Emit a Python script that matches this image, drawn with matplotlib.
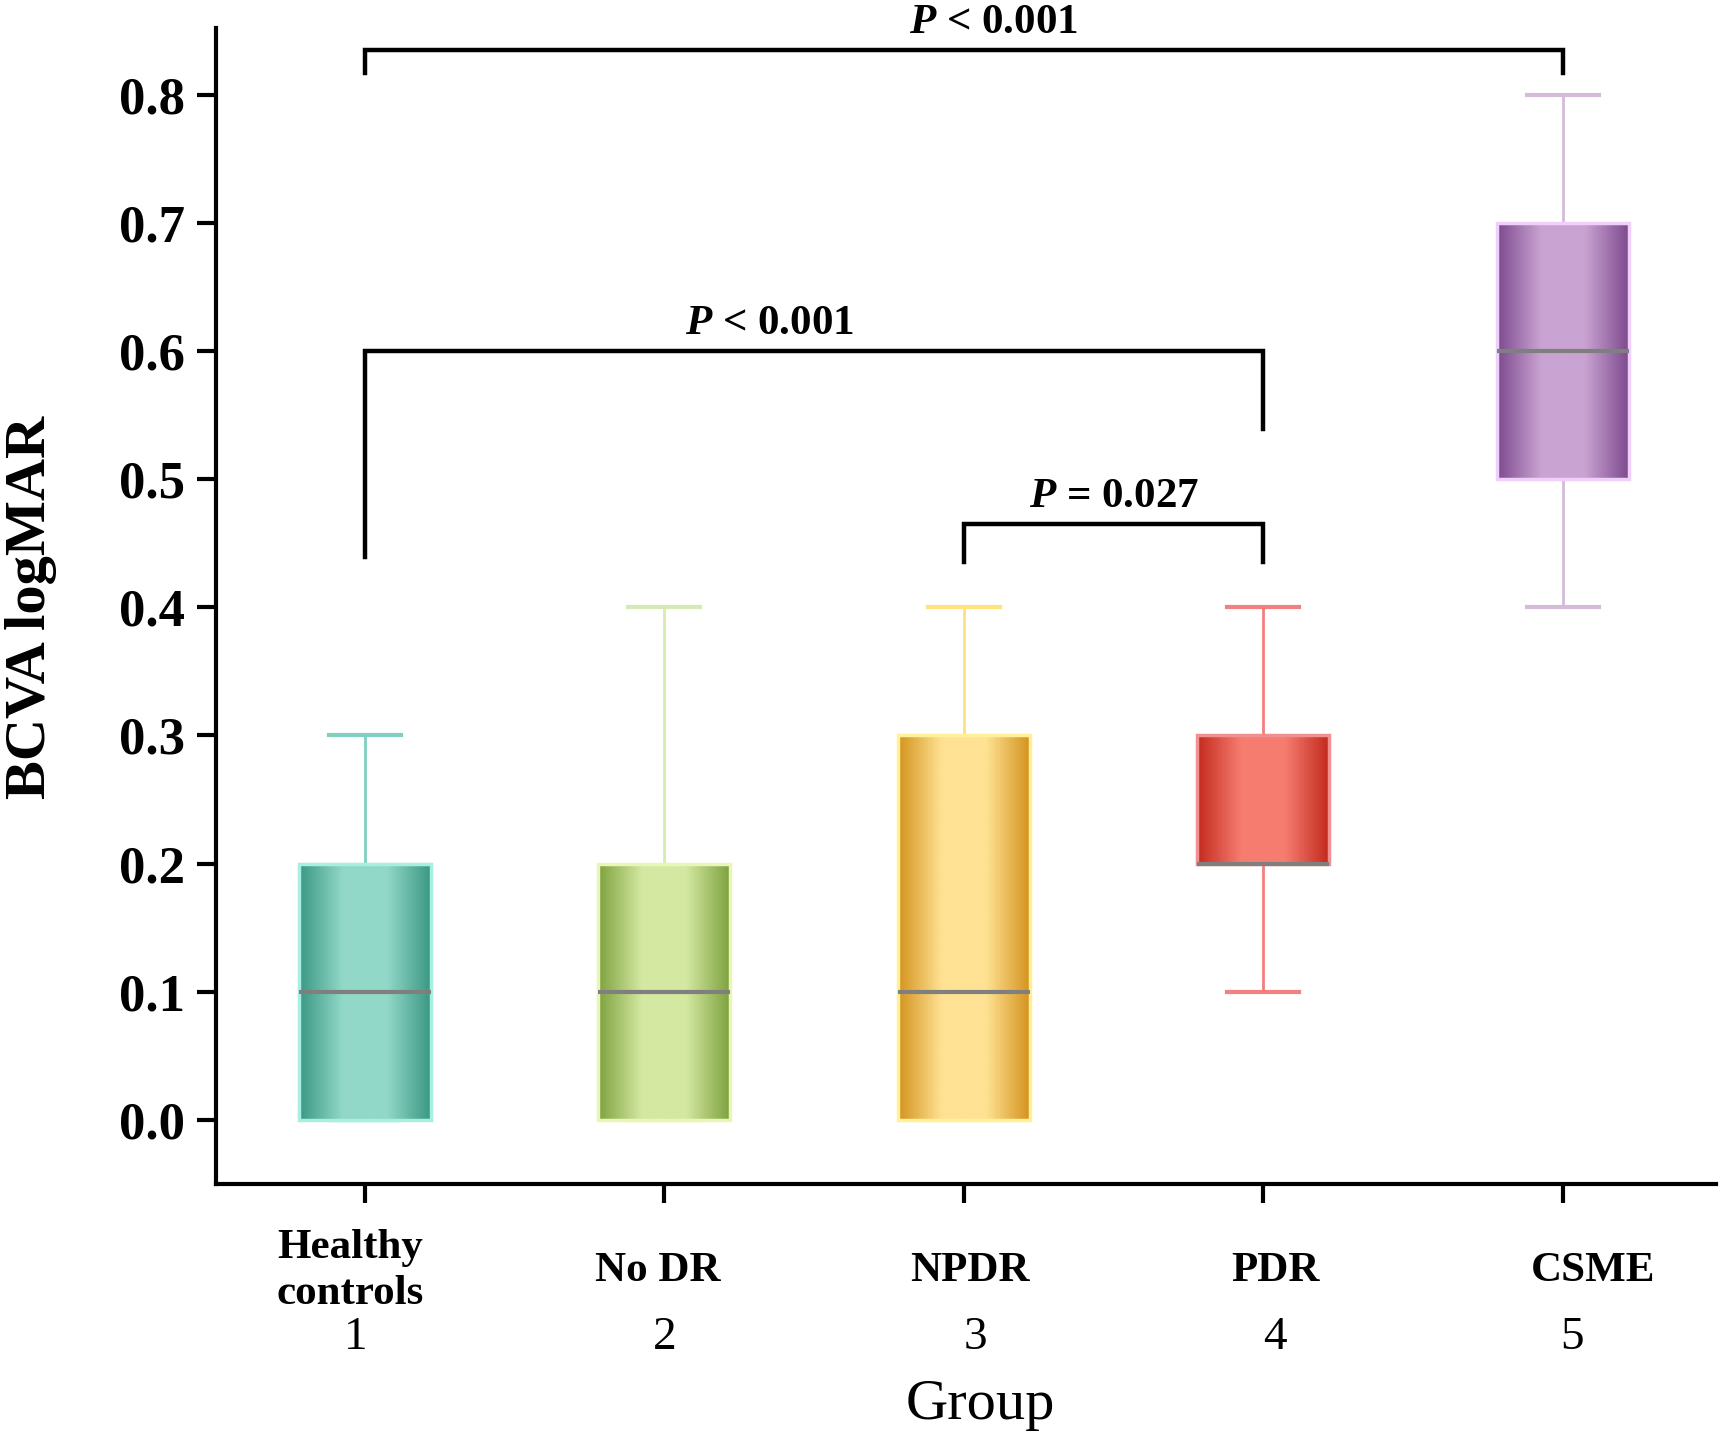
import numpy as np
import matplotlib
matplotlib.use("Agg")
import matplotlib.pyplot as plt
import matplotlib.transforms as mtransforms
from matplotlib.colors import LinearSegmentedColormap

# ---- data ----
groups = ["Healthy\ncontrols", "No DR", "NPDR", "PDR", "CSME"]
group_ids = ["1", "2", "3", "4", "5"]
whislo = [0.0, 0.0, 0.0, 0.1, 0.4]
q1 = [0.0, 0.0, 0.0, 0.2, 0.5]
med = [0.1, 0.1, 0.1, 0.2, 0.6]
q3 = [0.2, 0.2, 0.3, 0.3, 0.7]
whishi = [0.3, 0.4, 0.4, 0.4, 0.8]
yticks = [0.0, 0.1, 0.2, 0.3, 0.4, 0.5, 0.6, 0.7, 0.8]

# comparisons
comp_left = [1, 1, 3]
comp_right = [5, 4, 4]
comp_y = [0.835, 0.600, 0.465]
comp_left_end = [0.817, 0.439, 0.435]
comp_right_end = [0.817, 0.539, 0.435]
comp_rest = [" < 0.001", " < 0.001", " = 0.027"]
comp_text_x = [3.1, 2.35, 3.5]

# ---- style ----
dark_cols = ["#3a9883", "#7ea23e", "#d4931e", "#c32a1e", "#7d4a8e"]
light_cols = ["#92d8c8", "#d4e8a2", "#ffe294", "#f67c70", "#c9a3d2"]
edge_cols = ["#a8efe0", "#e8f7b8", "#fff09a", "#f09090", "#f0d0fa"]
whisk_cols = ["#7fd0c0", "#d8eab4", "#ffe27a", "#f28080", "#d4bcd9"]
serif = ["Liberation Serif", "DejaVu Serif"]
plt.rcParams["font.family"] = serif
plt.rcParams["mathtext.fontset"] = "custom"
plt.rcParams["mathtext.rm"] = "Liberation Serif"
plt.rcParams["mathtext.it"] = "Liberation Serif:italic"
plt.rcParams["mathtext.bf"] = "Liberation Serif:bold"
plt.rcParams["mathtext.bfit"] = "Liberation Serif:italic:bold"

W, H = 1732, 1437
fig = plt.figure(figsize=(W / 100, H / 100), dpi=100)
ax = fig.add_axes([0.1245, 0.176, 0.866, 0.8046])

positions = np.arange(1, len(groups) + 1)
stats = []
for i in range(len(groups)):
    stats.append(dict(whislo=whislo[i], q1=q1[i], med=med[i], q3=q3[i],
                      whishi=whishi[i], fliers=[]))

bw = 0.44
bp = ax.bxp(stats, positions=positions, widths=bw, patch_artist=True,
            showfliers=False, capwidths=0.24)

for i, patch in enumerate(bp["boxes"]):
    patch.set_facecolor("none")
    patch.set_edgecolor(edge_cols[i])
    patch.set_linewidth(2.5)
    patch.set_zorder(3)
    cmap = LinearSegmentedColormap.from_list(
        "g%d" % i, [dark_cols[i], light_cols[i], light_cols[i], dark_cols[i]])
    grad = np.linspace(0, 1, 256).reshape(1, -1)
    im = ax.imshow(grad, cmap=cmap, aspect="auto",
                   extent=(positions[i] - bw / 2, positions[i] + bw / 2, q1[i], q3[i]),
                   zorder=2, interpolation="bilinear")
    im.set_clip_path(patch)
for i, m in enumerate(bp["medians"]):
    m.set_color("#7f7f7f")
    m.set_linewidth(3)
    m.set_zorder(4)
for i in range(len(groups)):
    for w in bp["whiskers"][2 * i:2 * i + 2]:
        w.set_color(whisk_cols[i])
        w.set_linewidth(2)
        w.set_zorder(1)
    for c in bp["caps"][2 * i:2 * i + 2]:
        c.set_color(whisk_cols[i])
        c.set_linewidth(3)
        c.set_zorder(1)

ax.set_xlim(0.502, 5.51)
ax.set_ylim(-0.05, 0.852)

for s in ["top", "right"]:
    ax.spines[s].set_visible(False)
for s in ["left", "bottom"]:
    ax.spines[s].set_linewidth(3)

ax.set_yticks(yticks)
ax.set_yticklabels(["%.1f" % v for v in yticks], fontsize=38, fontweight="bold")
ax.tick_params(axis="y", length=14, width=3, pad=8)
ax.set_xticks(positions)
ax.set_xticklabels([])
ax.tick_params(axis="x", length=14, width=3)

# category labels and numbers
trans = mtransforms.blended_transform_factory(ax.transData, fig.transFigure)
label_dx = [-0.05, -0.02, 0.02, 0.04, 0.1]
num_dx = [-0.03, 0.0, 0.04, 0.04, 0.03]
for i, g in enumerate(groups):
    ax.text(positions[i] + label_dx[i], 0.1155, g, transform=trans, ha="center",
            va="center", fontsize=31, fontweight="bold", linespacing=1.3)
    ax.text(positions[i] + num_dx[i], 0.069, group_ids[i], transform=trans,
            ha="center", va="center", fontsize=34)
fig.text(0.566, 0.022, "Group", ha="center", va="center", fontsize=42)
fig.text(0.018, 0.577, "BCVA logMAR", rotation=90, ha="center", va="center",
         fontsize=42, fontweight="bold")

# significance brackets
for i in range(len(comp_left)):
    xl, xr, y = comp_left[i], comp_right[i], comp_y[i]
    ax.plot([xl, xl, xr, xr], [comp_left_end[i], y, y, comp_right_end[i]],
            color="black", lw=3.2, clip_on=False, solid_joinstyle="miter")
    ax.text(comp_text_x[i], y + 0.006, r"$\mathbfit{P}$" + comp_rest[i],
            ha="center", va="bottom", fontsize=31, fontweight="bold",
            clip_on=False)

fig.savefig("out.png", dpi=100)
